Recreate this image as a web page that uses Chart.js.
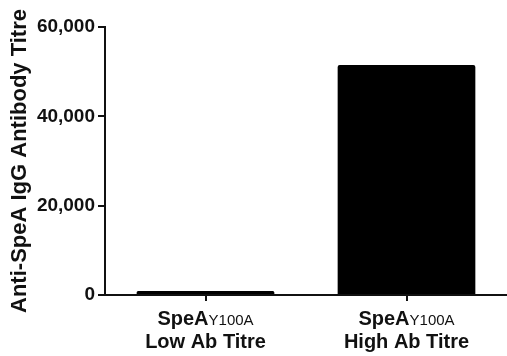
<!DOCTYPE html>
<html>
<head>
<meta charset="utf-8">
<script src="https://cdn.jsdelivr.net/npm/chart.js@4"></script>
<style>
html,body{margin:0;padding:0;background:#fff;}
#wrap{width:507px;height:356px;position:relative;}
</style>
</head>
<body>
<div id="wrap"><canvas id="c" width="507" height="356"></canvas></div>
<script>
const prefixes = ['SpeA', 'SpeA'];
const subscripts = ['Y100A', 'Y100A'];
const categories = ['Low Ab Titre', 'High Ab Titre'];
const titreValues = [900, 51500];
const yTicks = [0, 20000, 40000, 60000];
const yTitle = 'Anti-SpeA IgG Antibody Titre';

const FONT = '"Liberation Sans", Arial, sans-serif';

const labelPlugin = {
  id: 'mixedLabels',
  afterDraw(chart) {
    const ctx = chart.ctx;
    const xs = chart.scales.x;
    ctx.save();
    ctx.fillStyle = '#111';
    ctx.textBaseline = 'alphabetic';
    categories.forEach((cat, i) => {
      const cx = xs.getPixelForValue(i);
      const y1 = xs.top + 30;
      const y2 = y1 + 23;
      ctx.font = 'bold 20px ' + FONT;
      const w1 = ctx.measureText(prefixes[i]).width;
      ctx.font = '15px ' + FONT;
      const w2 = ctx.measureText(subscripts[i]).width;
      const start = cx - (w1 + w2) / 2;
      ctx.textAlign = 'left';
      ctx.font = 'bold 20px ' + FONT;
      ctx.fillText(prefixes[i], start, y1);
      ctx.font = '15px ' + FONT;
      ctx.fillText(subscripts[i], start + w1, y1);
      ctx.font = 'bold 20px ' + FONT;
      ctx.textAlign = 'center';
      ctx.fillText(cat, cx, y2);
    });
    ctx.restore();
  }
};

new Chart(document.getElementById('c'), {
  type: 'bar',
  data: {
    labels: categories,
    datasets: [{
      data: titreValues,
      backgroundColor: '#000',
      borderWidth: 0,
      borderRadius: 2,
      borderSkipped: 'bottom',
      barPercentage: 0.685,
      categoryPercentage: 1.0
    }]
  },
  options: {
    responsive: false,
    animation: false,
    layout: { padding: { top: 27, right: -3, left: 0, bottom: 0 } },
    plugins: { legend: { display: false }, tooltip: { enabled: false } },
    scales: {
      x: {
        offset: true,
        grid: { offset: false, drawOnChartArea: false, drawTicks: true, tickLength: 6, color: '#111', lineWidth: 2 },
        border: { display: true, color: '#111', width: 2 },
        ticks: { display: false },
        afterFit(s) { s.height = 61; }
      },
      y: {
        min: 0,
        max: 60000,
        afterBuildTicks(s) { s.ticks = yTicks.map(v => ({ value: v })); },
        grid: { drawOnChartArea: false, drawTicks: true, tickLength: 7, color: '#111', lineWidth: 2 },
        border: { display: true, color: '#111', width: 2 },
        ticks: {
          color: '#111',
          padding: 3,
          font: { family: FONT, size: 19, weight: 'bold' },
          callback: v => v.toLocaleString('en-US')
        },
        title: {
          display: true,
          text: yTitle,
          color: '#111',
          font: { family: FONT, size: 22, weight: 'bold' },
          padding: { top: 7, bottom: 0 }
        },
        afterFit(s) { s.width = 105; }
      }
    }
  },
  plugins: [labelPlugin]
});
</script>
</body>
</html>
